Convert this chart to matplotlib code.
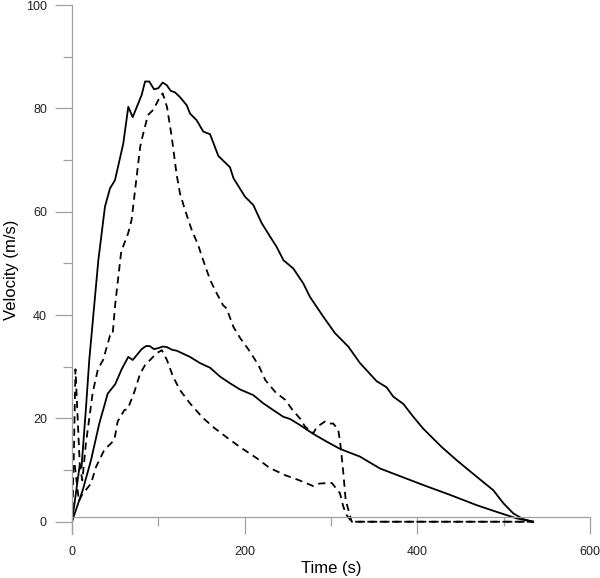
import matplotlib
matplotlib.use('Agg')
import matplotlib.pyplot as plt
from matplotlib.ticker import MultipleLocator

plt.rcParams['font.family'] = ['Liberation Sans', 'DejaVu Sans']

# upper pair (solid / dashed)
t_up_solid = [0, 9, 11, 16, 20, 30.5, 38.2, 44, 49.8, 59.4, 65.2, 70.3, 80.7, 84.6, 89.5,
              95, 100, 105, 109.7, 114.3, 119.3, 125, 132.9, 136.7, 144.4, 152.1, 159.9,
              169.5, 183, 187, 200.4, 210, 219.7, 229.4, 237, 245, 256.4, 268, 275.7, 291,
              304.6, 320, 333.6, 352.9, 364.5, 372.2, 383.8, 395.4, 406.9, 428, 445.6,
              468.8, 488, 499.6, 511.2, 522.8, 534]
v_up_solid = [0, 11, 10.5, 21.6, 31.3, 50.6, 61, 64.5, 66.1, 73.2, 80.3, 78.3, 82.6, 85.2, 85.2,
              83.7, 83.9, 85, 84.5, 83.4, 83.1, 82.2, 80.6, 79, 77.7, 75.5, 75,
              70.8, 68.6, 66.5, 62.9, 61.3, 57.8, 55.2, 53.2, 50.6, 49, 46.1, 43.5, 39.7,
              36.5, 33.9, 30.7, 27.2, 26, 24.2, 22.8, 20.3, 18, 14.5, 11.9,
              8.7, 6.1, 3.6, 1.6, 0.5, 0]

t_up_dash = [0, 2, 4, 9, 12, 16, 24, 30, 36, 44, 47, 50, 57, 65, 69, 79, 82, 88, 94, 100,
             105, 110, 115.5, 121, 125, 131, 138.6, 146, 152, 160, 167.6, 175, 179, 187,
             195, 205, 216, 224, 236, 247, 256, 264, 270, 279.5, 283.4, 293, 297, 302.7,
             308.5, 311, 314, 317, 324, 535]
v_up_dash = [0, 12, 29.5, 11, 8, 15, 25, 29.5, 31.3, 36, 36.1, 42, 52.3, 55.8, 58.4, 72.6,
             74.8, 78.7, 79.7, 81.6, 82.9, 80.3, 74.5, 67.4, 63.6, 60.3, 56.5, 53.6, 50.6,
             46.8, 44.2, 41.9, 41.3, 37.7, 35.5, 33.2, 30.3, 27.4, 25, 23.6, 21.5, 20, 18.4,
             17.1, 18.3, 19.4, 19, 19, 17.7, 14.8, 10, 4.2, 0, 0]

# lower pair (solid / dashed)
t_lo_solid = [0, 4.6, 12.4, 22, 31.6, 41.4, 50, 57.5, 65.2, 70.3, 80.7, 85.7, 90, 95, 100,
              105, 110, 115.5, 121.3, 136.7, 148.3, 160, 171.4, 183, 194.6, 210, 221.7,
              233.2, 244.8, 252.5, 264.1, 279.5, 295, 310.4, 333.6, 356.8, 406.9, 437.9,
              468.8, 492, 515, 534]
v_lo_solid = [0, 2.3, 6.1, 11.9, 19, 24.8, 26.6, 29.5, 31.9, 31.3, 33.4, 34, 34, 33.4, 33.6,
              33.9, 33.8, 33.3, 33.1, 31.9, 30.7, 29.8, 28.1, 26.8, 25.6, 24.5, 22.9,
              21.6, 20.3, 19.9, 18.7, 17, 15.5, 14.1, 12.6, 10.3, 7.1, 5.2,
              3.2, 1.9, 0.65, 0]

t_lo_dash = [0, 1.5, 3, 4.5, 8, 11.6, 22, 27.8, 37.4, 49, 52.9, 60.6, 64.5, 72, 79, 84.6,
             98, 104, 110, 117, 125, 136.7, 151, 163.7, 181, 196, 214, 227.4, 233, 247,
             262, 279.5, 287, 301, 310.4, 314.3, 318, 324, 535]
v_lo_dash = [0, 11.3, 11.3, 9, 4, 5.2, 7.4, 10.6, 13.9, 15.8, 19.4, 21.6, 21.8, 25, 28.7,
             30.3, 32.6, 33.2, 31.3, 28.1, 25.5, 22.9, 20.2, 18.3, 16.1, 14.3, 12.3, 10.6,
             10.1, 9, 8.1, 6.9, 7.4, 7.5, 5.5, 2.9, 1.3, 0, 0]

fig = plt.figure(figsize=(6, 5.78), dpi=100)
ax = fig.add_axes([0.12, 0.0768, 0.8633, 0.9145])

lw = 1.3
ax.plot(t_up_solid, v_up_solid, color='black', lw=lw)
ax.plot(t_lo_solid, v_lo_solid, color='black', lw=lw)
ax.plot(t_up_dash, v_up_dash, color='black', lw=lw, dashes=(4, 2.8))
ax.plot(t_lo_dash, v_lo_dash, color='black', lw=lw, dashes=(4, 2.8))

ax.set_xlim(0, 600)
ax.set_ylim(-2.3, 100)

grey = '#a0a0a0'
for side in ('top', 'right'):
    ax.spines[side].set_visible(False)
ax.spines['bottom'].set_position(('data', 1.0))
ax.spines['left'].set_color(grey)
ax.spines['bottom'].set_color(grey)
ax.spines['left'].set_linewidth(0.9)
ax.spines['bottom'].set_linewidth(0.9)

ax.xaxis.set_major_locator(MultipleLocator(200))
ax.xaxis.set_minor_locator(MultipleLocator(100))
ax.yaxis.set_major_locator(MultipleLocator(20))
ax.yaxis.set_minor_locator(MultipleLocator(10))

ax.tick_params(which='major', length=12, width=0.9, color=grey, labelsize=9,
               labelcolor='#222222')
ax.tick_params(which='minor', length=6.5, width=0.9, color=grey)
ax.tick_params(axis='y', which='major', pad=6)
ax.tick_params(axis='x', which='major', pad=9)

ax.set_xlabel('Time (s)', fontsize=12, labelpad=2)
ax.set_ylabel('Velocity (m/s)', fontsize=12, labelpad=5)

plt.savefig('out.png', dpi=100)
plt.close()
